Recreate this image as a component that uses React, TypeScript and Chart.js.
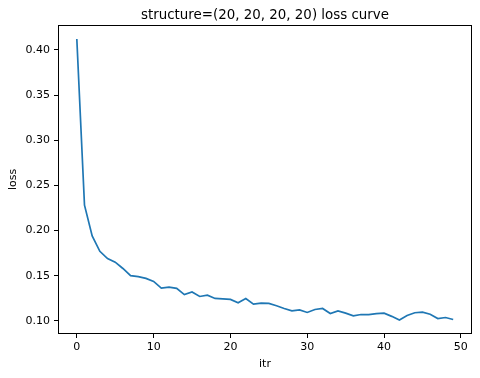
import React, { useEffect, useRef } from "react";
import { Chart, registerables } from "chart.js";

Chart.register(...registerables);

const titleText = "structure=(20, 20, 20, 20) loss curve";
const xLabel = "itr";
const yLabel = "loss";

const itr = [
  0, 1, 2, 3, 4, 5, 6, 7, 8, 9, 10, 11, 12, 13, 14, 15, 16, 17, 18, 19, 20, 21, 22, 23, 24,
  25, 26, 27, 28, 29, 30, 31, 32, 33, 34, 35, 36, 37, 38, 39, 40, 41, 42, 43, 44, 45, 46, 47, 48, 49,
];
const loss = [
  0.412, 0.228, 0.194, 0.177, 0.169, 0.165, 0.158, 0.15, 0.149, 0.147,
  0.1437, 0.1363, 0.1374, 0.136, 0.129, 0.132, 0.127, 0.1285, 0.1248, 0.1244,
  0.1237, 0.12, 0.1248, 0.1185, 0.1196, 0.1193, 0.1167, 0.1137, 0.111, 0.1122,
  0.1093, 0.1126, 0.1137, 0.1081, 0.111, 0.1085, 0.1055, 0.107, 0.107, 0.108,
  0.1085, 0.105, 0.101, 0.1059, 0.109, 0.1096, 0.1074, 0.1026, 0.1037, 0.1015,
];
const xTicks = [0, 10, 20, 30, 40, 50];
const yTicks = [0.1, 0.15, 0.2, 0.25, 0.3, 0.35, 0.4];

const FONT = "'DejaVu Sans', sans-serif";

export default function App() {
  const ref = useRef<HTMLCanvasElement | null>(null);

  useEffect(() => {
    document.body.style.margin = "0";
    const canvas = ref.current;
    if (!canvas) return;

    const xMin = itr[0] - (itr[itr.length - 1] - itr[0]) * 0.05;
    const xMax = itr[itr.length - 1] + (itr[itr.length - 1] - itr[0]) * 0.05;
    const lo = Math.min(...loss);
    const hi = Math.max(...loss);
    const yMin = lo - (hi - lo) * 0.05;
    const yMax = hi + (hi - lo) * 0.05;

    const framePlugin = {
      id: "frame",
      afterDraw(chart: any) {
        const { ctx, chartArea } = chart;
        ctx.save();
        ctx.strokeStyle = "#000";
        ctx.lineWidth = 1;
        ctx.strokeRect(
          Math.round(chartArea.left) + 0.5,
          Math.round(chartArea.top) + 0.5,
          Math.round(chartArea.right - chartArea.left) - 1,
          Math.round(chartArea.bottom - chartArea.top) - 1
        );
        ctx.fillStyle = "#000";
        ctx.font = `13.4px ${FONT}`;
        ctx.textAlign = "center";
        ctx.textBaseline = "alphabetic";
        ctx.fillText(titleText, (chartArea.left + chartArea.right) / 2, 19);
        ctx.restore();
      },
    };

    const chart = new Chart(canvas, {
      type: "line",
      data: {
        datasets: [
          {
            data: itr.map((x, i) => ({ x, y: loss[i] })),
            borderColor: "#1f77b4",
            borderWidth: 1.7,
            pointRadius: 0,
            fill: false,
            tension: 0,
          },
        ],
      },
      options: {
        responsive: false,
        animation: false,
        layout: { padding: { left: 0, right: 8, top: 25, bottom: 0 } },
        plugins: {
          legend: { display: false },
          tooltip: { enabled: false },
          title: { display: false },
        },
        scales: {
          x: {
            type: "linear",
            min: xMin,
            max: xMax,
            afterBuildTicks: (s: any) => {
              s.ticks = xTicks.map((v) => ({ value: v }));
            },
            afterFit: (s: any) => {
              s.height = 44;
            },
            grid: {
              display: true,
              drawOnChartArea: false,
              drawTicks: true,
              tickLength: 4,
              color: "#000",
              tickColor: "#000",
            },
            border: { display: false },
            ticks: {
              color: "#000",
              font: { family: FONT, size: 11 },
              padding: 3,
              maxRotation: 0,
              autoSkip: false,
              callback: (v: any) => String(v),
            },
            title: {
              display: true,
              text: xLabel,
              color: "#000",
              font: { family: FONT, size: 11 },
              padding: { top: 0, bottom: 7 },
            },
          },
          y: {
            type: "linear",
            min: yMin,
            max: yMax,
            afterBuildTicks: (s: any) => {
              s.ticks = yTicks.map((v) => ({ value: v }));
            },
            afterFit: (s: any) => {
              s.width = 58;
            },
            grid: {
              display: true,
              drawOnChartArea: false,
              drawTicks: true,
              tickLength: 4,
              color: "#000",
              tickColor: "#000",
            },
            border: { display: false },
            ticks: {
              color: "#000",
              font: { family: FONT, size: 11 },
              padding: 4,
              autoSkip: false,
              callback: (v: any) => Number(v).toFixed(2),
            },
            title: {
              display: true,
              text: yLabel,
              color: "#000",
              font: { family: FONT, size: 11 },
              padding: { top: 7, bottom: 0 },
            },
          },
        },
      },
      plugins: [framePlugin],
    });

    return () => chart.destroy();
  }, []);

  return (
    <div style={{ width: 480, height: 378, background: "#fff" }}>
      <canvas ref={ref} width={480} height={378} />
    </div>
  );
}
